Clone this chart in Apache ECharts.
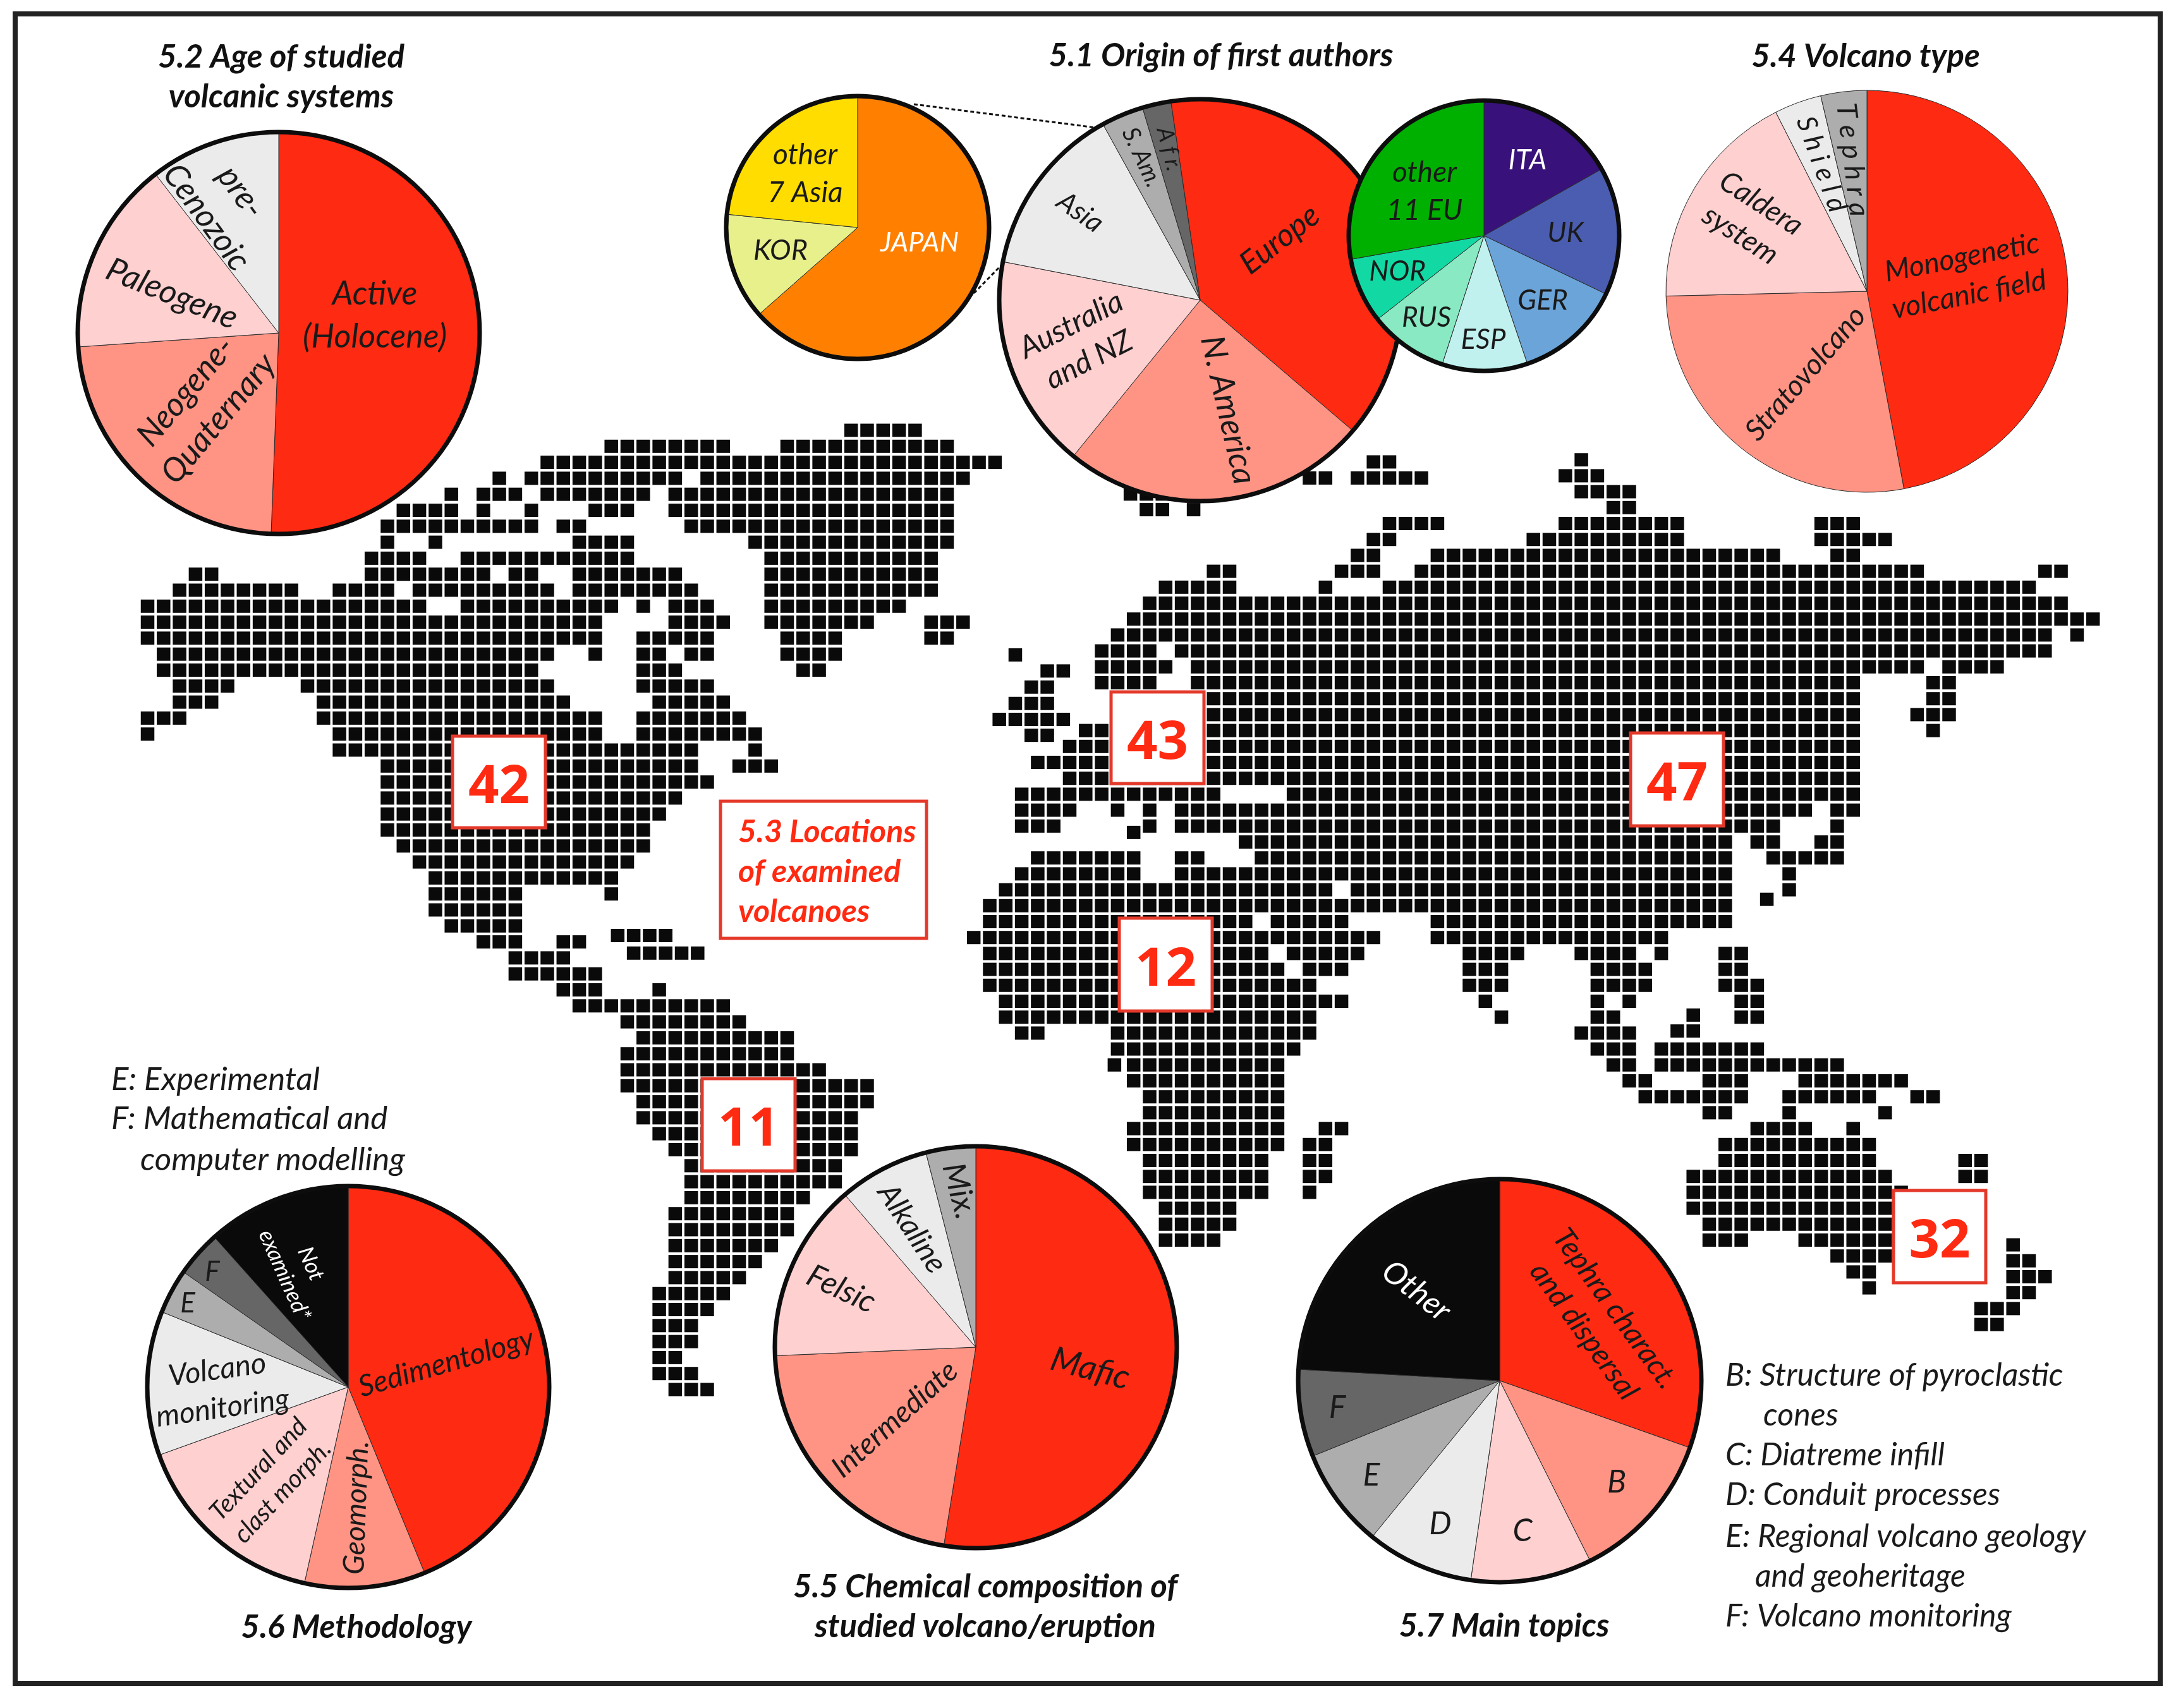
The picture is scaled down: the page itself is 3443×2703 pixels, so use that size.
<!DOCTYPE html>
<html>
<head>
<meta charset="utf-8">
<title>Volcano review figure</title>
<style>
html, body { margin: 0; padding: 0; background: #fff; }
#main { width: 3443px; height: 2703px; }
</style>
<script src="https://cdn.jsdelivr.net/npm/echarts@6/dist/echarts.min.js"></script>
</head>
<body>
<div id="main"></div>
<script>
// palette shared by the red pies
var RED = '#ff2a12', SALMON = '#ff9485', PINK = '#ffd0d0', PALE = '#ebebeb', GREY = '#adadad', DARK = '#666666', BLACK = '#0a0a0a'

// 5.1 origin of first authors (share in %)
var authorNames = ['Europe', 'N. America', 'Australia\nand NZ', 'Asia', 'S. Am.', 'A f r.']
var authorValues = [38.6, 24.6, 17.2, 13.9, 3.4, 2.3]
var asiaNames = ['JAPAN', 'KOR', 'other\n7 Asia']
var asiaValues = [63.5, 13.1, 23.4]
var europeNames = ['ITA', 'UK', 'GER', 'ESP', 'RUS', 'NOR', 'other\n11 EU']
var europeValues = [16.8, 15.3, 12.7, 10.2, 9.4, 7.8, 27.8]
// 5.2 age
var ageNames = ['Active\n(Holocene)', 'Neogene-\nQuaternary', 'Paleogene', 'pre-\nCenozoic']
var ageValues = [50.6, 23.3, 15.6, 10.5]
// 5.4 volcano type
var typeNames = ['Monogenetic\nvolcanic field', 'Stratovolcano', 'Caldera\nsystem', 'S h i e l d', 'T e p h r a']
var typeValues = [47.1, 27.6, 17.9, 3.8, 3.7]
// 5.5 composition
var chemNames = ['Mafic', 'Intermediate', 'Felsic', 'Alkaline', 'Mix.']
var chemValues = [52.6, 21.8, 14.4, 7.3, 4]
// 5.6 methodology
var methodNames = ['Sedimentology', 'Geomorph.', 'Textural and\nclast morph.', 'Volcano\nmonitoring', 'E', 'F', 'Not\nexamined*']
var methodValues = [43.8, 9.7, 16, 11.6, 3.6, 3.7, 11.6]
// 5.7 topics
var topicNames = ['Tephra charact.\nand dispersal', 'B', 'C', 'D', 'E', 'F', 'Other']
var topicValues = [30.4, 12.2, 9.7, 8.6, 8, 7, 24.1]

// 5.3 counts per continent
var countLabels = ['42', '43', '47', '12', '11', '32']

// land cells of the map: [row, firstCol, lastCol]
var westRuns = [
    [0,44,48],[1,29,36],[1,40,50],[2,25,53],[3,22,22],[3,24,33],[3,35,51],
    [4,19,19],[4,21,23],[4,25,31],[4,33,50],[5,16,19],[5,21,21],[5,24,24],[5,28,30],[5,33,50],
    [6,15,24],[6,26,27],[6,34,50],[7,15,15],[7,18,18],[7,27,30],[7,38,50],
    [8,14,17],[8,20,30],[8,39,49],[9,3,4],[9,14,21],[9,23,24],[9,27,33],[9,39,49],
    [10,2,9],[10,12,15],[10,17,25],[10,27,34],[10,39,49],
    [11,0,17],[11,20,29],[11,31,31],[11,33,35],[11,39,47],
    [12,0,28],[12,33,36],[12,39,45],[12,49,51],[13,0,28],[13,31,35],[13,40,43],[13,49,50],
    [14,1,25],[14,28,28],[14,31,32],[14,34,35],[14,40,43],[15,1,24],[15,31,33],[15,41,42],
    [16,2,5],[16,10,25],[16,31,35],[17,2,4],[17,11,26],[17,32,36],[18,0,2],[18,11,28],[18,31,37],
    [19,0,0],[19,12,28],[19,31,38],[20,12,34],[20,38,38],[21,15,34],[21,37,39],
    [22,15,35],[23,15,33],[24,15,32],[25,15,31],[26,16,31],[27,17,30],[28,18,29],
    [29,18,23],[29,29,29],[30,18,23],[31,19,23],[31.6,29.4,32.4],[32,21,23],[32,26,27],[32.7,30.4,34.4],
    [33,23,26],[34,23,28],[35,26,28],[35,32,32],[36,27,36],[37,30,37],[38,31,40],[39,30,40],
    [40,30,42],[41,30,45],[42,31,45],[43,31,44],[44,32,44],[45,33,44],[46,34,43],[47,34,43],
    [48,34,41],[49,33,40],[50,33,40],[51,33,39],[52,33,38],[53,33,37],[54,32,36],[55,32,35],
    [56,32,34],[57,32,34],[58,32,33],[59,32,34],[60,33,35]
]
var eastRuns = [
    [2,89,89],[2.13,76,77],[3,88,90],[3.14,72,73],[3.14,75,79],[4,89,92],[4.15,60.8,62.8],
    [5,91,92],[5.13,61.8,62.8],[5.13,64.75,64.75],
    [6,77,80],[6,88,95],[6,104,106],[7,76,77],[7,86,95],[7,104,108],[8,75,76],[8,80,101],[8,105,106],
    [9,66,67],[9,74,76],[9,79,110],[9,118,119],[10,63,67],[10,73,73],[10,77,117],
    [11,62,119],[12,61,121],[13,60,118],[13,120,120],[14,59,62],[14,64,118],
    [14.25,53.6,53.6],[15,59,63],[15,65,110],[15,112,115],[15.26,55.6,56.6],
    [16,59,62],[16,65,106],[16,111,112],[16.27,54.6,55.6],[17,61,106],[17,111,112],[17.3,53.6,55.6],
    [18,61,106],[18,110,112],[18.3,52.6,56.6],[19,58,106],[19,111,111],[19.3,54.6,55.6],
    [20,57,106],[21,55,106],[22,57,106],[23,54,66],[23,71,106],
    [24,54,57],[24,60,60],[24,62,62],[24,64,103],[24,105,106],
    [25,54,56],[25,62,62],[25,64,101],[25,105,105],[25.4,61,61],
    [26,68,98],[26,100,101],[26,104,105],[27,55,61],[27,64,65],[27,69,98],[27,101,105],
    [28,54,61],[28,64,98],[28,102,102],[29,53,73],[29,75,98],[29,102,102],[29.6,100.6,100.6],
    [30,52,98],[31,52,68],[31,70,74],[31,80,98],[32,51,76],[32,80,94],
    [33,52,69],[33,71,75],[33,82,85],[33,89,92],[33,94,94],[33,98,99],
    [34,52,70],[34,72,74],[34,82,84],[34,90,93],[34,98,99],
    [35,52,72],[35,82,84],[35,90,93],[35,98,100],
    [36,53,74],[36,83,83],[36,90,90],[36,92,92],[36,99,100],[36.87,96,96],
    [37,53,72],[37,84,84],[37,90,91],[37,99,100],[37.87,95,96],
    [38,54,55],[38,60,72],[38,89,92],[39,60,71],[39,90,92],[39,94,100],
    [40,59.8,59.8],[40,61,70],[40,91,92],[40,94,105],[41,61,70],[41,92,93],[41,97,99],[41,103,109],
    [42,62,70],[42,93,99],[42,102,107],[42,110,111],[43,62,70],[43,97,98],[43,102,102],[43,108,108],
    [44,61,70],[44,73,74],[44,100,103],[44,106,106],[45,61,70],[45,72,73],[45,98,107],
    [46,62,69],[46,72,73],[46,98,107],[46,113,114],[47,62,69],[47,72,73],[47,96,108],[47,113,114],
    [48,62,69],[48,72,72],[48,96,109],[49,63,67],[49,96,109],[50,63,67],[50,97,109],
    [51,63,66],[51,97,99],[51,103,108],[51.3,116,116],[52,105,108],[52.3,116,117],
    [53,106,107],[53.3,116,118],[54,107,107],[54.3,116,117],[55.3,114,116],[56.3,114,115]
]

var W = 3443, H = 2703
var CELL = 25.3

function expandRuns(runs) {
    var out = []
    runs.forEach(function (r) {
        for (var c = r[1]; c <= r[2] + 0.01; c++) {
            out.push([c, r[0]])
        }
    })
    return out
}

// label spots in page pixels, same order as the names above: [x, y, rotate]
var authorSpots = [[2025,379,38],[1943,649,-77],[1709,542,27],[1709,336,-35],[1807,249,-65],[1850,236,-76]]
var asiaSpots = [[1455,384,0],[1235,396,0],[1274,275,0]]
var europeSpots = [[2417,254,0],[2477,369,0],[2441,476,0],[2347,538,0],[2257,503,0],[2211,430,0],[2254,303,0]]
var ageSpots = [[593,499,0],[320,641,50],[272,465,-22],[354,324,-54]]
var typeSpots = [[3110,437,11],[2857,591,49],[2770,347,-33],[2882,260,-70],[2931,253,-83]]
var chemSpots = [[1725,2166,-15],[1416,2246,42],[1331,2040,-25],[1443,1944,-57],[1518,1885,-75]]
var methodSpots = [[706,2157,16],[564,2386,88],[428,2343,47],[348,2198,8],[297,2063,0],[336,2013,0],[471,2009,-66]]
var topicSpots = [[2531,2089,-54],[2558,2346,0],[2409,2423,0],[2279,2412,0],[2170,2335,0],[2116,2228,0],[2241,2043,-38]]

function makePie(name, names, values, colors, textColors, spots, center, radius, start, z, size) {
    return {
        name: name,
        type: 'pie',
        z: z,
        silent: true,
        center: center,
        radius: radius,
        startAngle: start,
        avoidLabelOverlap: false,
        itemStyle: { borderColor: '#2a2a2a', borderWidth: 1 },
        labelLine: { show: false },
        labelLayout: function (params) {
            var s = spots[params.dataIndex]
            return { x: s[0], y: s[1], rotate: s[2], align: 'center', verticalAlign: 'middle' }
        },
        data: names.map(function (n, i) {
            var fs = Array.isArray(size) ? size[i] : size
            return {
                name: n,
                value: values[i],
                itemStyle: { color: colors[i] },
                label: {
                    show: true,
                    position: 'inside',
                    formatter: n,
                    rotate: spots[i][2],
                    color: textColors[i] || '#1a1a1a',
                    fontFamily: 'Lato',
                    fontStyle: 'italic',
                    fontSize: fs,
                    lineHeight: fs * 1.3,
                    align: 'center',
                    verticalAlign: 'middle'
                }
            }
        })
    }
}

function boxAt(x, y, w, h) {
    return {
        type: 'rect', z: 20, silent: true,
        shape: { x: x, y: y, width: w, height: h },
        style: { fill: '#fff', stroke: '#e4392a', lineWidth: 5 }
    }
}

function noteText(text, x, y, size) {
    return {
        type: 'text', z: 20, silent: true,
        style: { text: text, x: x, y: y, fill: '#1a1a1a', font: 'italic ' + size + 'px Lato', verticalAlign: 'middle' }
    }
}

function countText(text, x, y) {
    return {
        type: 'text', z: 21, silent: true,
        style: { text: text, x: x, y: y, fill: RED, font: 'bold 85px "Open Sans"', align: 'center', verticalAlign: 'middle' }
    }
}

function ring(x, y, r, z) {
    return {
        type: 'circle', z: z, silent: true,
        shape: { cx: x, cy: y, r: r },
        style: { fill: 'none', stroke: '#0d0d0d', lineWidth: 7 }
    }
}

function heading(text, x, y) {
    return {
        text: text, left: x, top: y, textAlign: 'center', textVerticalAlign: 'middle', z: 30,
        textStyle: { fontFamily: 'Lato', fontStyle: 'italic', fontWeight: 'bold', fontSize: 51, lineHeight: 63, color: '#111' }
    }
}

var countBoxes = [[716,1165,147,145],[1758,1095,147,145],[2580,1160,147,147],[1771,1453,147,147],[1111,1707,147,146],[2996,1884,146,146]]

var graphics = [
    { type: 'rect', z: 0, silent: true, shape: { x: 24, y: 22, width: 3394, height: 2642 }, style: { fill: 'none', stroke: '#222', lineWidth: 8 } },
    { type: 'line', z: 2, silent: true, shape: { x1: 1446, y1: 165, x2: 1742, y2: 203 }, style: { stroke: '#111', lineWidth: 3, lineDash: [6, 4] } },
    { type: 'line', z: 2, silent: true, shape: { x1: 1541, y1: 464, x2: 1587, y2: 417 }, style: { stroke: '#111', lineWidth: 3, lineDash: [6, 4] } },
    ring(441, 527, 318, 4),
    ring(1357, 360, 208, 4),
    ring(1899, 475, 318, 6),
    ring(2348, 373, 214, 8),
    ring(1544, 2132, 318, 4),
    ring(551, 2195, 318, 4),
    ring(2373, 2185, 319, 4),
    boxAt(1140, 1268, 326, 217),
    { type: 'text', z: 21, silent: true, style: { text: '5.3 Locations\nof examined\nvolcanoes', x: 1168, y: 1380, fill: RED, font: 'italic bold 50px Lato', lineHeight: 63, verticalAlign: 'middle' } },
    noteText('E: Experimental', 176, 1709, 51),
    noteText('F: Mathematical and', 176, 1771, 51),
    noteText('computer modelling', 222, 1836, 51),
    noteText('B: Structure of pyroclastic', 2730, 2177, 50),
    noteText('cones', 2790, 2240, 50),
    noteText('C: Diatreme infill', 2730, 2303, 50),
    noteText('D: Conduit processes', 2730, 2366, 50),
    noteText('E: Regional volcano geology', 2730, 2432, 50),
    noteText('and geoheritage', 2777, 2495, 50),
    noteText('F: Volcano monitoring', 2730, 2558, 50)
]
countBoxes.forEach(function (b, i) {
    graphics.push(boxAt(b[0], b[1], b[2], b[3]))
    graphics.push(countText(countLabels[i], b[0] + b[2] / 2, b[1] + b[3] / 2 + 9))
})

var myChart = echarts.init(document.getElementById('main'))
myChart.setOption({
    animation: false,
    backgroundColor: '#fff',
    title: [
        heading('5.2 Age of studied\nvolcanic systems', 440, 117),
        heading('5.1 Origin of first authors', 1927, 84),
        heading('5.4 Volcano type', 2947, 85),
        heading('5.5 Chemical composition of\nstudied volcano/eruption', 1554, 2538),
        heading('5.6 Methodology', 559, 2571),
        heading('5.7 Main topics', 2375, 2569)
    ],
    grid: [
        { left: 0, top: 0, width: W, height: H },
        { left: 0, top: 0, width: W, height: H }
    ],
    xAxis: [
        { type: 'value', gridIndex: 0, show: false, min: -233.5 / CELL, max: (W - 233.5) / CELL },
        { type: 'value', gridIndex: 1, show: false, min: 52 - 1566 / CELL, max: 52 + (W - 1566) / CELL }
    ],
    yAxis: [
        { type: 'value', gridIndex: 0, show: false, inverse: true, min: -681 / CELL, max: (H - 681) / CELL },
        { type: 'value', gridIndex: 1, show: false, inverse: true, min: 11 - 954.5 / 25.2, max: 11 + (H - 954.5) / 25.2 }
    ],
    graphic: graphics,
    series: [
        {
            name: 'Land west', type: 'scatter', xAxisIndex: 0, yAxisIndex: 0, z: 1, silent: true,
            symbol: 'rect', symbolSize: [21.5, 21], progressive: 0,
            itemStyle: { color: BLACK, opacity: 1 }, data: expandRuns(westRuns)
        },
        {
            name: 'Land east', type: 'scatter', xAxisIndex: 1, yAxisIndex: 1, z: 1, silent: true,
            symbol: 'rect', symbolSize: [21.5, 21], progressive: 0,
            itemStyle: { color: BLACK, opacity: 1 }, data: expandRuns(eastRuns)
        },
        makePie('5.2 Age of studied volcanic systems', ageNames, ageValues, [RED, SALMON, PINK, PALE], [], ageSpots, [441, 527], 318, 90, 3, 52),
        makePie('5.1 Asia', asiaNames, asiaValues, ['#ff8000', '#e8f08c', '#ffdd00'], ['#fff'], asiaSpots, [1357, 360], 208, 90, 3, [43, 45, 46]),
        makePie('5.1 Origin of first authors', authorNames, authorValues, [RED, SALMON, PINK, PALE, GREY, DARK], [], authorSpots, [1899, 475], 318, 98.4, 5, [50, 52, 48, 44, 38, 36]),
        makePie('5.1 Europe', europeNames, europeValues, ['#38127a', '#4a5db0', '#6ba4d8', '#c0f1ef', '#88e9c2', '#12d9a3', '#00b000'], ['#fff'], europeSpots, [2348, 373], 214, 90, 7, [44, 44, 44, 44, 44, 44, 46]),
        makePie('5.4 Volcano type', typeNames, typeValues, [RED, SALMON, PINK, PALE, GREY], [], typeSpots, [2954, 461], 318, 90, 3, [46, 46, 46, 43, 44]),
        makePie('5.5 Chemical composition', chemNames, chemValues, [RED, SALMON, PINK, PALE, GREY], [], chemSpots, [1544, 2132], 318, 90, 3, [54, 47, 50, 48, 50]),
        makePie('5.6 Methodology', methodNames, methodValues, [RED, SALMON, PINK, PALE, GREY, DARK, BLACK], ['', '', '', '', '', '', '#fff'], methodSpots, [551, 2195], 318, 90, 3, [47, 46, 40, 47, 44, 44, 35]),
        makePie('5.7 Main topics', topicNames, topicValues, [RED, SALMON, PINK, PALE, GREY, DARK, BLACK], ['', '', '', '', '', '', '#fff'], topicSpots, [2373, 2185], 319, 90, 3, [47, 50, 50, 50, 50, 50, 50])
    ]
})
</script>
</body>
</html>
